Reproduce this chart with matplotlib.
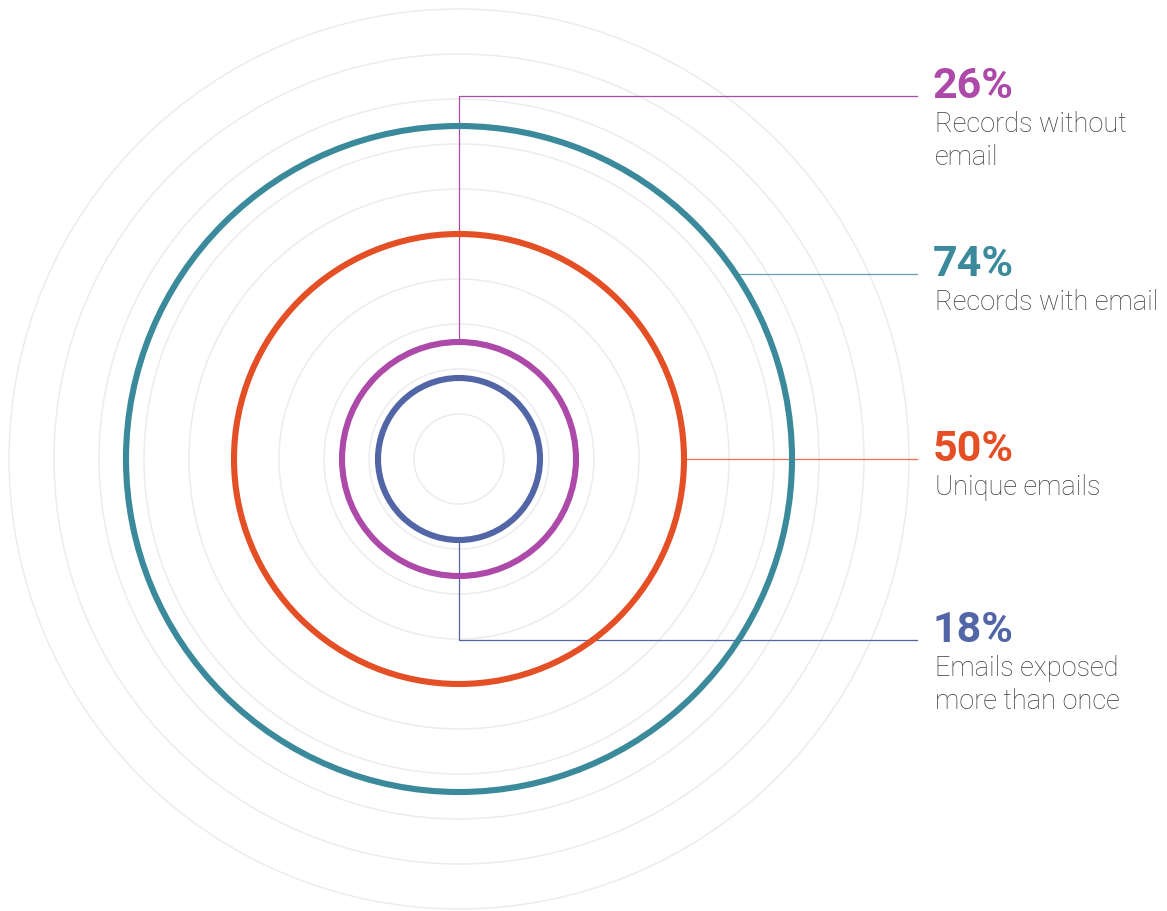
import numpy as np
import matplotlib
matplotlib.use("Agg")
import matplotlib.pyplot as plt
from matplotlib.patches import Circle

# data
values = [26, 74, 50, 18]
pct_labels = ["26%", "74%", "50%", "18%"]
descriptions = ["Records without\nemail", "Records with email", "Unique emails", "Emails exposed\nmore than once"]
colors = ["#ad4aa9", "#3b8a9c", "#e44f25", "#5265a6"]
grid_steps = np.arange(10, 101, 10)

# layout (pixels)
W, H = 1167, 911
cx, cy = 459, 459
scale = 4.5          # px per percent
label_y = [96, 274, 459, 640]
line_end = 917
text_x = 935

fig = plt.figure(figsize=(W / 100, H / 100), dpi=100)
ax = fig.add_axes([0, 0, 1, 1])
ax.set_xlim(0, W)
ax.set_ylim(H, 0)
ax.set_aspect("equal")
ax.axis("off")

# background rings
for g in grid_steps:
    ax.add_patch(Circle((cx, cy), g * scale, fill=False, ec="#ececec", lw=1.1, zorder=1))

# value rings
for v, c in zip(values, colors):
    ax.add_patch(Circle((cx, cy), v * scale, fill=False, ec=c, lw=4.4, zorder=3))

# connectors
for v, c, ly in zip(values, colors, label_y):
    r = v * scale
    if abs(ly - cy) >= r:
        y0 = cy - r if ly < cy else cy + r
        ax.plot([cx, cx, line_end], [y0, ly, ly], color=c, lw=0.9, zorder=2)
    else:
        x0 = cx + np.sqrt(r ** 2 - (ly - cy) ** 2)
        ax.plot([x0, line_end], [ly, ly], color=c, lw=0.9, alpha=0.8, zorder=2)

# labels
for p, d, c, ly in zip(pct_labels, descriptions, colors, label_y):
    ax.text(text_x - 2, ly + 2, p, color=c, fontsize=31, fontweight="bold",
            family=["Roboto", "DejaVu Sans"], va="baseline", ha="left")
    for k, line in enumerate(d.split("\n")):
        ax.text(text_x, ly + 36 + 33 * k, line, color="#3c3c3c", fontsize=19.5,
                fontweight="light", family=["Roboto", "DejaVu Sans"],
                va="baseline", ha="left")

fig.savefig("out.png", dpi=100, facecolor="white")
